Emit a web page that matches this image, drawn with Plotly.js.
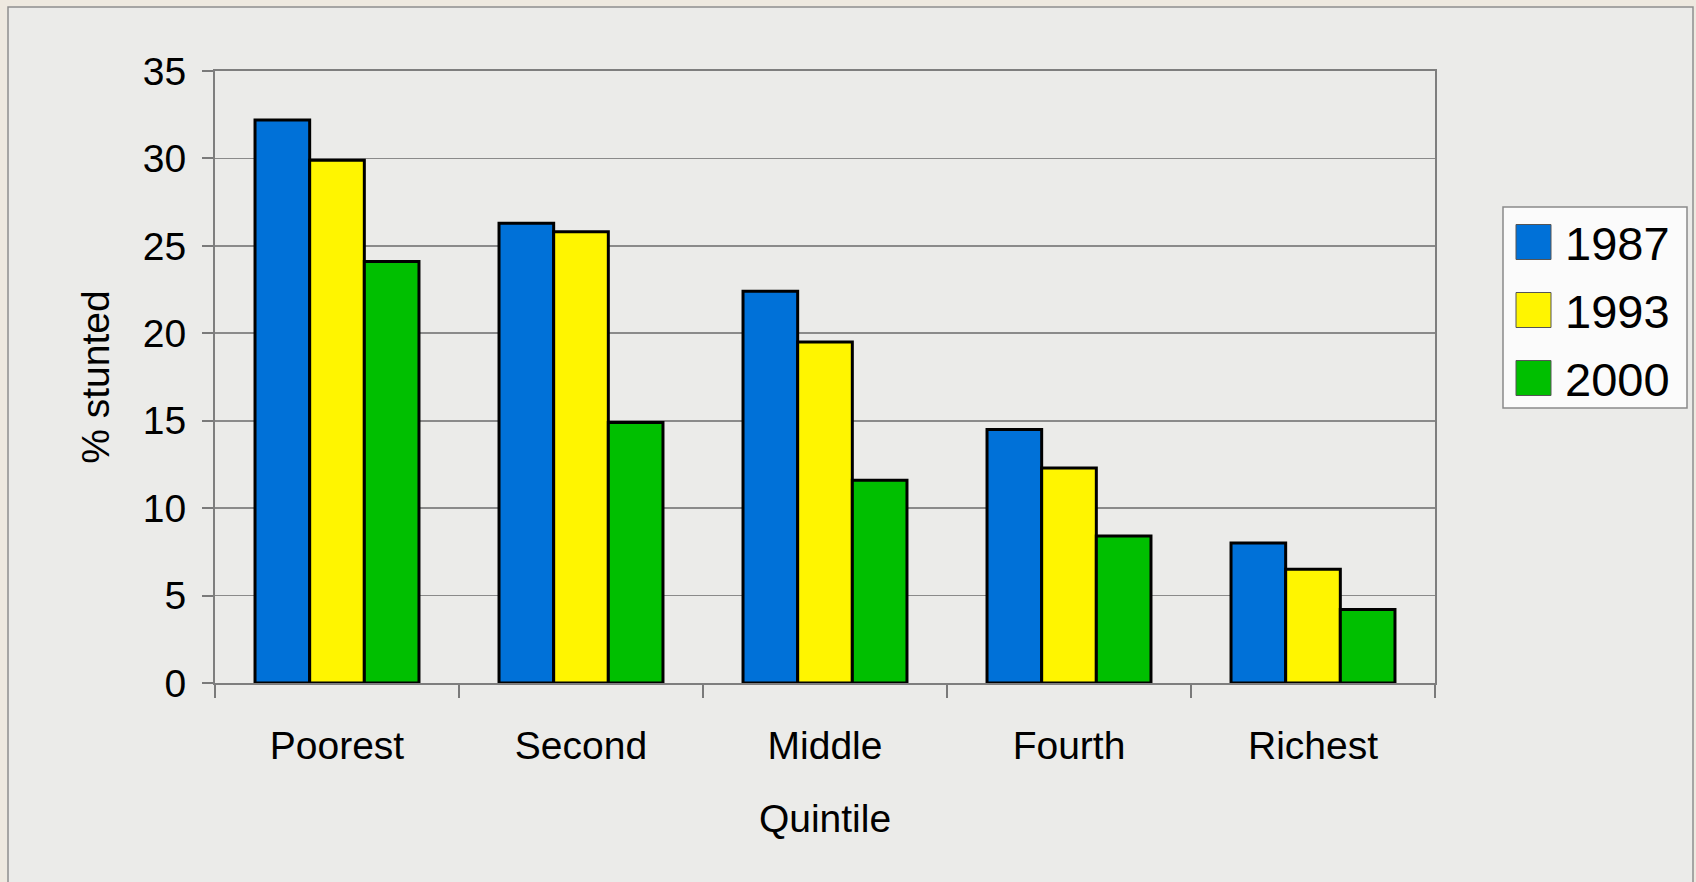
<!DOCTYPE html>
<html>
<head>
<meta charset="utf-8">
<script src="https://cdn.plot.ly/plotly-3.0.1.min.js"></script>
<style>
  html, body { margin: 0; padding: 0; background: #eee9e0; }
  #chart { width: 1696px; height: 882px; }
</style>
</head>
<body>
<div id="chart"></div>
<script>
// Stunting rate (% of children) by wealth quintile and survey year
const quintiles = ['Poorest', 'Second', 'Middle', 'Fourth', 'Richest'];
const years = ['1987', '1993', '2000'];
const stunted1987 = [32.2, 26.3, 22.4, 14.5, 8.0];
const stunted1993 = [29.9, 25.8, 19.5, 12.3, 6.5];
const stunted2000 = [24.1, 14.9, 11.6, 8.4, 4.2];
const yTickValues = [0, 5, 10, 15, 20, 25, 30, 35];
const seriesColors = ['#0071d8', '#fff500', '#00bf00'];

const seriesValues = [stunted1987, stunted1993, stunted2000];
const FONT = '"Liberation Sans", Arial, Helvetica, sans-serif';

// Plot area geometry in pixels
const W = 1696, H = 882;
const M = { l: 215, r: 261, t: 71, b: 199 };
const plotW = W - M.l - M.r;
const plotH = H - M.t - M.b;
const px = x => (x - M.l) / plotW;
const py = y => (H - M.b - y) / plotH;

const traces = years.map((yr, i) => ({
  type: 'bar',
  name: yr,
  x: quintiles,
  y: seriesValues[i],
  marker: { color: seriesColors[i], line: { color: '#000000', width: 3 } },
  showlegend: false,
  hoverinfo: 'x+y+name'
}));

// Background panel and a boxed key on the right
const shapes = [
  { type: 'rect', xref: 'paper', yref: 'paper', layer: 'below',
    x0: px(8), x1: px(1693), y0: py(7), y1: py(900),
    fillcolor: '#ebebe9', line: { color: '#8e8e8e', width: 1.5 } },
  { type: 'rect', xref: 'paper', yref: 'paper', layer: 'below',
    x0: px(1503), x1: px(1687), y0: py(207), y1: py(408),
    fillcolor: '#fbfbfb', line: { color: '#8a8a8a', width: 1.5 } }
];
const annotations = [];
const keyRows = [242, 310, 378];
years.forEach((yr, i) => {
  const cy = keyRows[i];
  shapes.push({ type: 'rect', xref: 'paper', yref: 'paper', layer: 'below',
    x0: px(1516), x1: px(1551), y0: py(cy - 17.5), y1: py(cy + 17.5),
    fillcolor: seriesColors[i], line: { color: '#555555', width: 1 } });
  annotations.push({ xref: 'paper', yref: 'paper', x: px(1563), y: py(cy + 1),
    xanchor: 'left', yanchor: 'middle', showarrow: false, text: yr,
    font: { family: FONT, size: 47, color: '#000000' } });
});

const layout = {
  width: W, height: H,
  margin: M,
  paper_bgcolor: '#eee9e0',
  plot_bgcolor: 'rgba(0,0,0,0)',
  font: { family: FONT, color: '#000000' },
  barmode: 'group',
  bargap: 0.328,
  bargroupgap: 0,
  showlegend: false,
  xaxis: {
    type: 'category',
    tickson: 'boundaries',
    ticks: 'outside', ticklen: 13, tickwidth: 2, tickcolor: '#7a7a7a',
    tickfont: { family: FONT, size: 39, color: '#000000' },
    ticklabelstandoff: 27,
    showline: true, mirror: true, linecolor: '#7e7e7e', linewidth: 2,
    showgrid: false, zeroline: false,
    title: { text: 'Quintile', font: { family: FONT, size: 39, color: '#000000' }, standoff: 39 }
  },
  yaxis: {
    range: [0, 35],
    tickvals: yTickValues,
    ticktext: yTickValues.map(String),
    ticks: 'outside', ticklen: 11, tickwidth: 2, tickcolor: '#7a7a7a',
    tickfont: { family: FONT, size: 39, color: '#000000' },
    ticklabelstandoff: 8,
    showline: true, mirror: true, linecolor: '#7e7e7e', linewidth: 2,
    showgrid: true, gridcolor: '#8a8a8a', gridwidth: 1.6,
    zeroline: false,
    title: { text: '% stunted', font: { family: FONT, size: 39, color: '#000000' }, standoff: 21 }
  },
  shapes: shapes,
  annotations: annotations
};

Plotly.newPlot('chart', traces, layout, { displayModeBar: false, staticPlot: true });
</script>
</body>
</html>
